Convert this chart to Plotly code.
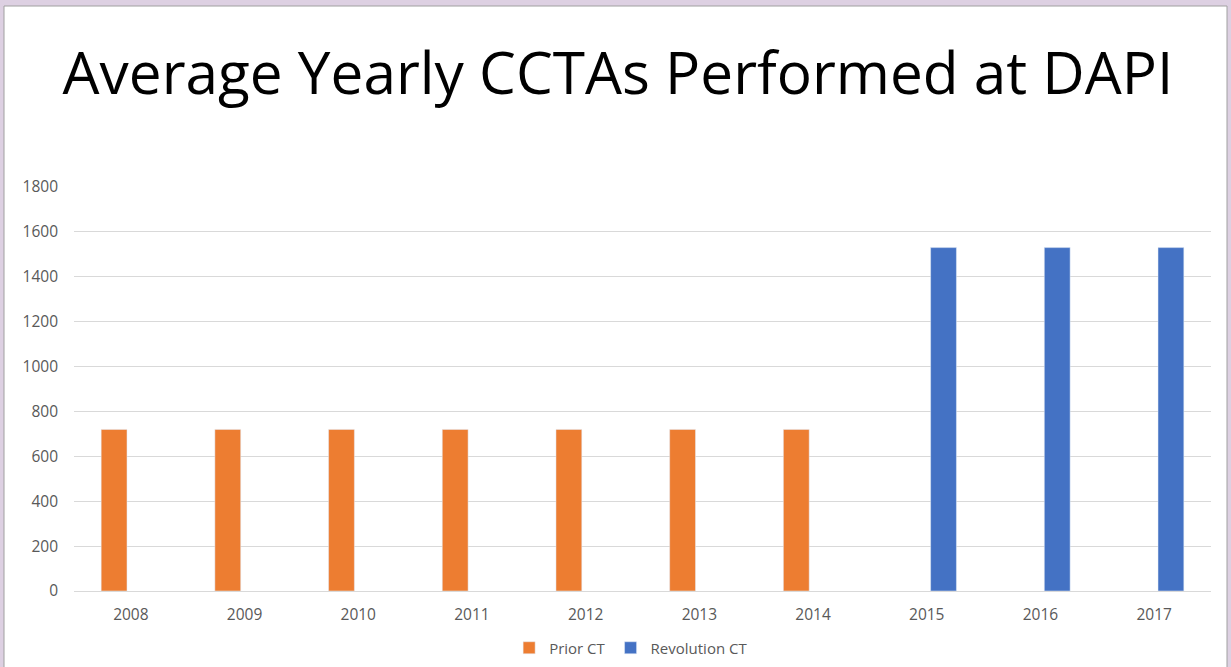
import plotly.graph_objects as go

# Data
years = ["2008", "2009", "2010", "2011", "2012", "2013", "2014", "2015", "2016", "2017"]
prior_ct = [720, 720, 720, 720, 720, 720, 720, None, None, None]
revolution_ct = [None, None, None, None, None, None, None, 1530, 1530, 1530]

W, H = 1231, 667
L, R, T, B = 74, 20, 187, 76
pw, ph = W - L - R, H - T - B

fig = go.Figure()
fig.add_trace(go.Bar(x=years, y=prior_ct, name="Prior CT", marker_color="#ED7D31"))
fig.add_trace(go.Bar(x=years, y=revolution_ct, name="Revolution CT", marker_color="#4472C4"))

# window frame (purple border around the white chart area)
fig.add_shape(type="rect", xref="paper", yref="paper",
              x0=(4 - L) / pw, x1=(1227 - L) / pw,
              y0=-(B + 10) / ph, y1=(H - 6 - B) / ph,
              fillcolor="white", line=dict(color="#A0A0A0", width=1), layer="below")

fig.update_layout(
    width=W, height=H,
    margin=dict(l=L, r=R, t=T, b=B, autoexpand=False),
    paper_bgcolor="#DDD0E2",
    plot_bgcolor="rgba(0,0,0,0)",
    barmode="group",
    bargap=0.41,
    bargroupgap=0.23,
    title=dict(text="Average Yearly CCTAs Performed at DAPI", x=0.502, xref="container",
               y=1 - 74 / H, yanchor="middle", xanchor="center",
               font=dict(family="Open Sans", size=58.5, color="black")),
    font=dict(family="Open Sans", size=16, color="#595959"),
    legend=dict(orientation="h", x=0.49, xanchor="center", y=-(648 - 591) / ph, yanchor="middle",
                font=dict(size=15, color="#595959"), bgcolor="rgba(0,0,0,0)",
                itemwidth=30, traceorder="normal"),
    xaxis=dict(showgrid=False, showline=False, ticks="", tickfont=dict(size=15.5),
               automargin=False, ticklabelstandoff=12),
    yaxis=dict(range=[0, 1800], dtick=200, gridcolor="#D9D9D9", gridwidth=1,
               zeroline=True, zerolinecolor="#D9D9D9", zerolinewidth=1,
               tickfont=dict(size=15.5), ticklabelstandoff=15, automargin=False),
)

fig.write_html("out.html", config={"displayModeBar": False},
               post_script="document.body.style.margin='0';")
